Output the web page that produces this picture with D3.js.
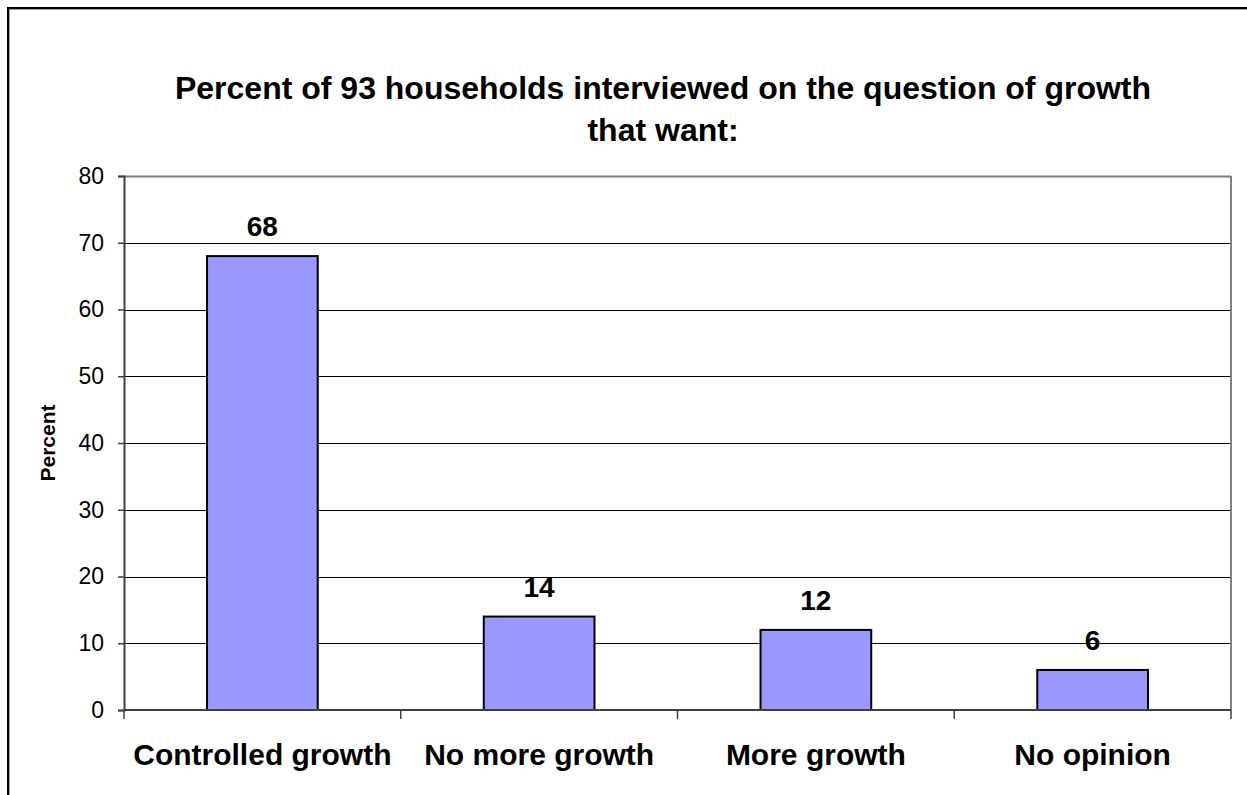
<!DOCTYPE html>
<html>
<head>
<meta charset="utf-8">
<script src="https://cdn.jsdelivr.net/npm/d3@7"></script>
<style>
  html, body { margin: 0; padding: 0; background: #fff; }
  svg { display: block; font-family: "Liberation Sans", Arial, sans-serif; }
</style>
</head>
<body>
<svg id="chart" width="1247" height="795"></svg>
<script>
const titleLines = ["Percent of 93 households interviewed on the question of growth", "that want:"];
const categories = ["Controlled growth", "No more growth", "More growth", "No opinion"];
const values = [68, 14, 12, 6];
const yTicks = [0, 10, 20, 30, 40, 50, 60, 70, 80];
const yLabel = "Percent";

const svg = d3.select("#chart");
const W = 1247, H = 795;
const plot = {left: 124, right: 1231, top: 176, bottom: 710};

// outer frame
svg.append("rect").attr("x", 9.5).attr("y", 9.5).attr("width", W + 20).attr("height", H + 20)
  .attr("fill", "none").attr("stroke", "#a0a0a0").attr("stroke-width", 1);
svg.append("rect").attr("x", 8).attr("y", 8).attr("width", W + 20).attr("height", H + 20)
  .attr("fill", "none").attr("stroke", "#000").attr("stroke-width", 2);

const x = d3.scaleBand().domain(categories).range([plot.left, plot.right]).paddingInner(0.6).paddingOuter(0.3);
const xBound = d3.scaleLinear().domain([0, categories.length]).range([plot.left, plot.right]);
const y = d3.scaleLinear().domain([0, 80]).range([plot.bottom, plot.top]);

// gridlines
svg.append("g").selectAll("line").data(yTicks.filter(t => t > 0 && t < 80)).join("line")
  .attr("x1", plot.left).attr("x2", plot.right)
  .attr("y1", d => Math.round(y(d)) + 0.5).attr("y2", d => Math.round(y(d)) + 0.5)
  .attr("stroke", "#000").attr("stroke-width", 1);

// plot border top/right (gray)
svg.append("line").attr("x1", plot.left).attr("x2", plot.right)
  .attr("y1", plot.top + 0.5).attr("y2", plot.top + 0.5).attr("stroke", "#808080").attr("stroke-width", 2);
svg.append("line").attr("x1", plot.right).attr("x2", plot.right)
  .attr("y1", plot.top).attr("y2", plot.bottom).attr("stroke", "#808080").attr("stroke-width", 2);

// bars
svg.append("g").selectAll("rect").data(values).join("rect")
  .attr("x", (d, i) => x(categories[i]))
  .attr("width", x.bandwidth())
  .attr("y", d => y(d))
  .attr("height", d => y(0) - y(d))
  .attr("fill", "#9999FF").attr("stroke", "#000").attr("stroke-width", 2);

// y axis
const yAxis = d3.axisLeft(y).tickValues(yTicks).tickSize(6).tickPadding(14);
const gy = svg.append("g").attr("transform", `translate(${plot.left},0)`).call(yAxis);
gy.select(".domain").attr("stroke", "#404040").attr("stroke-width", 2);
gy.selectAll(".tick line").attr("stroke", "#404040").attr("stroke-width", 1.5);
gy.selectAll(".tick text").attr("font-size", 23).attr("fill", "#000")
  .attr("font-family", "'Liberation Sans', Arial, sans-serif");

// x axis line and boundary ticks
svg.append("line").attr("x1", plot.left).attr("x2", plot.right)
  .attr("y1", plot.bottom).attr("y2", plot.bottom).attr("stroke", "#404040").attr("stroke-width", 2);
svg.append("g").selectAll("line").data(d3.range(categories.length + 1)).join("line")
  .attr("x1", d => xBound(d)).attr("x2", d => xBound(d))
  .attr("y1", plot.bottom).attr("y2", plot.bottom + 9)
  .attr("stroke", "#404040").attr("stroke-width", 1.5);

// category labels
svg.append("g").selectAll("text").data(categories).join("text")
  .attr("x", d => x(d) + x.bandwidth() / 2)
  .attr("y", 765)
  .attr("text-anchor", "middle")
  .attr("font-size", 30).attr("font-weight", "bold")
  .text(d => d);

// data labels
svg.append("g").selectAll("text").data(values).join("text")
  .attr("x", (d, i) => x(categories[i]) + x.bandwidth() / 2)
  .attr("y", d => y(d) - 20)
  .attr("text-anchor", "middle")
  .attr("font-size", 28).attr("font-weight", "bold")
  .text(d => d);

// y label
svg.append("text")
  .attr("transform", "translate(55,443) rotate(-90)")
  .attr("text-anchor", "middle")
  .attr("font-size", 21).attr("font-weight", "bold")
  .text(yLabel);

// title
svg.append("g").selectAll("text").data(titleLines).join("text")
  .attr("x", 663)
  .attr("y", (d, i) => 99 + i * 42)
  .attr("text-anchor", "middle")
  .attr("font-size", 32).attr("font-weight", "bold")
  .text(d => d);
</script>
</body>
</html>
